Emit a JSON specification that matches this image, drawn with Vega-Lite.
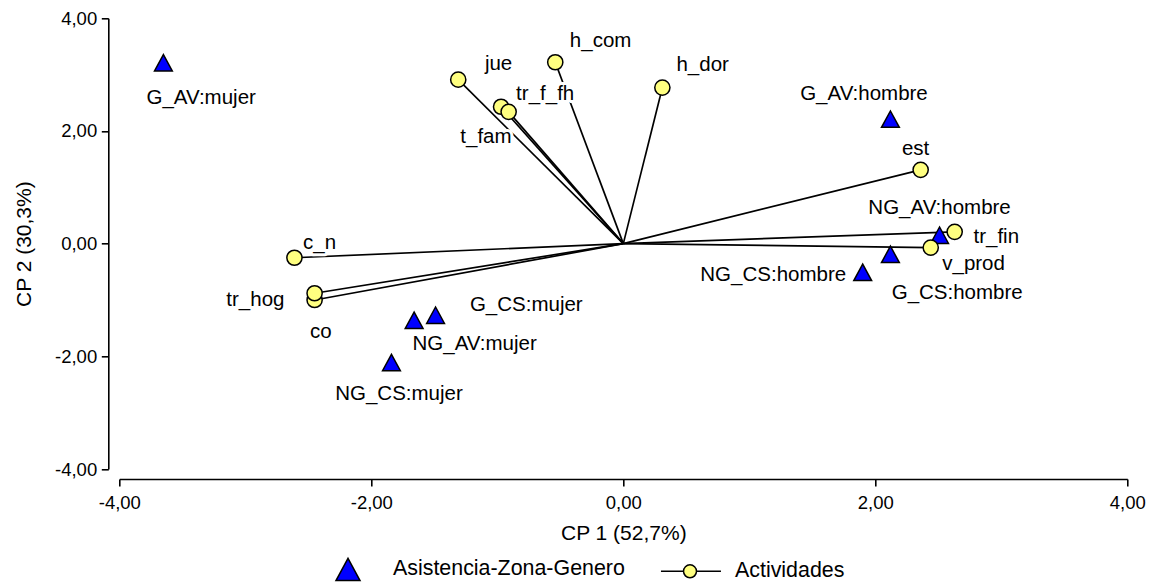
{
  "$schema": "https://vega.github.io/schema/vega-lite/v6.json",
  "width": 1008,
  "height": 450.7,
  "autosize": "none",
  "padding": {"left": 119.3, "top": 18.3, "right": 27.7, "bottom": 113},
  "config": {
    "view": {"stroke": null},
    "font": "Liberation Sans",
    "axis": {
      "grid": false,
      "domainColor": "black",
      "domainWidth": 1.6,
      "tickColor": "black",
      "tickWidth": 1.6,
      "tickSize": 7,
      "labelFont": "Liberation Sans",
      "labelFontSize": 18.5,
      "labelColor": "black",
      "titleFont": "Liberation Sans",
      "titleFontSize": 21,
      "titleFontWeight": "normal",
      "titleColor": "black",
      "labelFlush": false,
      "labelOverlap": false,
      "labelExpr": "(datum.value < 0 ? '-' : '') + replace(format(abs(datum.value), '.2f'), '.', ',')"
    }
  },
  "data": {
    "values": [
      {"name": "G_AV:mujer", "group": "Asistencia-Zona-Genero", "x": -3.65, "y": 3.21, "lx": -3.35, "ly": 2.59},
      {"name": "G_AV:hombre", "group": "Asistencia-Zona-Genero", "x": 2.12, "y": 2.21, "lx": 1.91, "ly": 2.66},
      {"name": "NG_AV:hombre", "group": "Asistencia-Zona-Genero", "x": 2.51, "y": 0.15, "lx": 2.51, "ly": 0.64},
      {"name": "G_CS:hombre", "group": "Asistencia-Zona-Genero", "x": 2.12, "y": -0.19, "lx": 2.65, "ly": -0.88},
      {"name": "NG_CS:hombre", "group": "Asistencia-Zona-Genero", "x": 1.9, "y": -0.51, "lx": 1.19, "ly": -0.56},
      {"name": "NG_AV:mujer", "group": "Asistencia-Zona-Genero", "x": -1.66, "y": -1.36, "lx": -1.18, "ly": -1.78},
      {"name": "G_CS:mujer", "group": "Asistencia-Zona-Genero", "x": -1.49, "y": -1.27, "lx": -0.77, "ly": -1.09},
      {"name": "NG_CS:mujer", "group": "Asistencia-Zona-Genero", "x": -1.84, "y": -2.11, "lx": -1.78, "ly": -2.66},
      {"name": "jue", "group": "Actividades", "x": -1.31, "y": 2.91, "lx": -0.99, "ly": 3.19},
      {"name": "h_com", "group": "Actividades", "x": -0.54, "y": 3.22, "lx": -0.18, "ly": 3.6},
      {"name": "tr_f_fh", "group": "Actividades", "x": -0.97, "y": 2.43, "lx": -0.62, "ly": 2.66},
      {"name": "t_fam", "group": "Actividades", "x": -0.91, "y": 2.34, "lx": -1.09, "ly": 1.9},
      {"name": "h_dor", "group": "Actividades", "x": 0.31, "y": 2.77, "lx": 0.63, "ly": 3.17},
      {"name": "est", "group": "Actividades", "x": 2.36, "y": 1.31, "lx": 2.32, "ly": 1.68},
      {"name": "tr_fin", "group": "Actividades", "x": 2.63, "y": 0.21, "lx": 2.96, "ly": 0.12},
      {"name": "v_prod", "group": "Actividades", "x": 2.44, "y": -0.07, "lx": 2.78, "ly": -0.36},
      {"name": "c_n", "group": "Actividades", "x": -2.61, "y": -0.25, "lx": -2.41, "ly": 0.02},
      {"name": "co", "group": "Actividades", "x": -2.45, "y": -1.0, "lx": -2.4, "ly": -1.56},
      {"name": "tr_hog", "group": "Actividades", "x": -2.45, "y": -0.88, "lx": -2.92, "ly": -1.0}
    ]
  },
  "layer": [
    {
      "transform": [{"filter": "datum.group === 'Actividades'"}],
      "mark": {"type": "rule", "color": "black", "strokeWidth": 1.7},
      "encoding": {
        "x": {"field": "x", "type": "quantitative", "scale": {"domain": [-4, 4], "nice": false, "zero": false},
          "axis": {"title": "CP 1 (52,7%)", "values": [-4, -2, 0, 2, 4], "offset": 10, "labelPadding": 7.5, "titlePadding": 10}},
        "y": {"field": "y", "type": "quantitative", "scale": {"domain": [-4, 4], "nice": false, "zero": false},
          "axis": {"title": "CP 2 (30,3%)", "values": [-4, -2, 0, 2, 4], "offset": 11, "labelPadding": 4.6, "titlePadding": 20}},
        "x2": {"datum": 0},
        "y2": {"datum": 0}
      }
    },
    {
      "mark": {"type": "text", "stroke": "white", "strokeWidth": 6, "strokeJoin": "round", "fill": "white", "fontSize": 20.5, "font": "Liberation Sans", "align": "center", "baseline": "middle"},
      "encoding": {
        "x": {"field": "lx", "type": "quantitative"},
        "y": {"field": "ly", "type": "quantitative"},
        "text": {"field": "name"}
      }
    },
    {
      "transform": [{"filter": "datum.group === 'Asistencia-Zona-Genero'"}],
      "mark": {"type": "point", "filled": true, "strokeWidth": 1.5, "opacity": 1, "size": 317},
      "encoding": {
        "x": {"field": "x", "type": "quantitative"},
        "y": {"field": "y", "type": "quantitative"},
        "shape": {"field": "group", "type": "nominal",
          "scale": {"domain": ["Asistencia-Zona-Genero", "Actividades"], "range": ["M-1,0.92L1,0.92L0,-0.92Z", "M-2.42,0L-0.54,0M0.54,0L2.58,0M-0.54,0A0.54,0.54,0,1,1,0.54,0A0.54,0.54,0,1,1,-0.54,0Z"]},
          "legend": {"title": null, "orient": "none", "legendX": 215.7, "legendY": 537.7, "direction": "horizontal", "symbolSize": 576, "symbolStrokeWidth": 1.5, "symbolOpacity": 1, "labelFontSize": 21.4, "labelFont": "Liberation Sans", "labelColor": "black", "labelLimit": 500, "labelOffset": 32, "columnPadding": 32, "padding": 0}},
        "fill": {"field": "group", "type": "nominal",
          "scale": {"domain": ["Asistencia-Zona-Genero", "Actividades"], "range": ["#0000ff", "#ffff80"]},
          "legend": {"title": null, "orient": "none", "legendX": 215.7, "legendY": 537.7, "direction": "horizontal", "symbolSize": 576, "symbolStrokeWidth": 1.5, "symbolOpacity": 1, "labelFontSize": 21.4, "labelFont": "Liberation Sans", "labelColor": "black", "labelLimit": 500, "labelOffset": 32, "columnPadding": 32, "padding": 0}},
        "stroke": {"field": "group", "type": "nominal",
          "scale": {"domain": ["Asistencia-Zona-Genero", "Actividades"], "range": ["black", "black"]},
          "legend": {"title": null, "orient": "none", "legendX": 215.7, "legendY": 537.7, "direction": "horizontal", "symbolSize": 576, "symbolStrokeWidth": 1.5, "symbolOpacity": 1, "labelFontSize": 21.4, "labelFont": "Liberation Sans", "labelColor": "black", "labelLimit": 500, "labelOffset": 32, "columnPadding": 32, "padding": 0}}
      }
    },
    {
      "transform": [{"filter": "datum.group === 'Actividades'"}],
      "mark": {"type": "point", "shape": "circle", "filled": true, "fill": "#ffff80", "stroke": "black", "strokeWidth": 1.5, "opacity": 1, "size": 231},
      "encoding": {
        "x": {"field": "x", "type": "quantitative"},
        "y": {"field": "y", "type": "quantitative"}
      }
    },
    {
      "mark": {"type": "text", "fill": "black", "fontSize": 20.5, "font": "Liberation Sans", "align": "center", "baseline": "middle"},
      "encoding": {
        "x": {"field": "lx", "type": "quantitative"},
        "y": {"field": "ly", "type": "quantitative"},
        "text": {"field": "name"}
      }
    }
  ]
}
